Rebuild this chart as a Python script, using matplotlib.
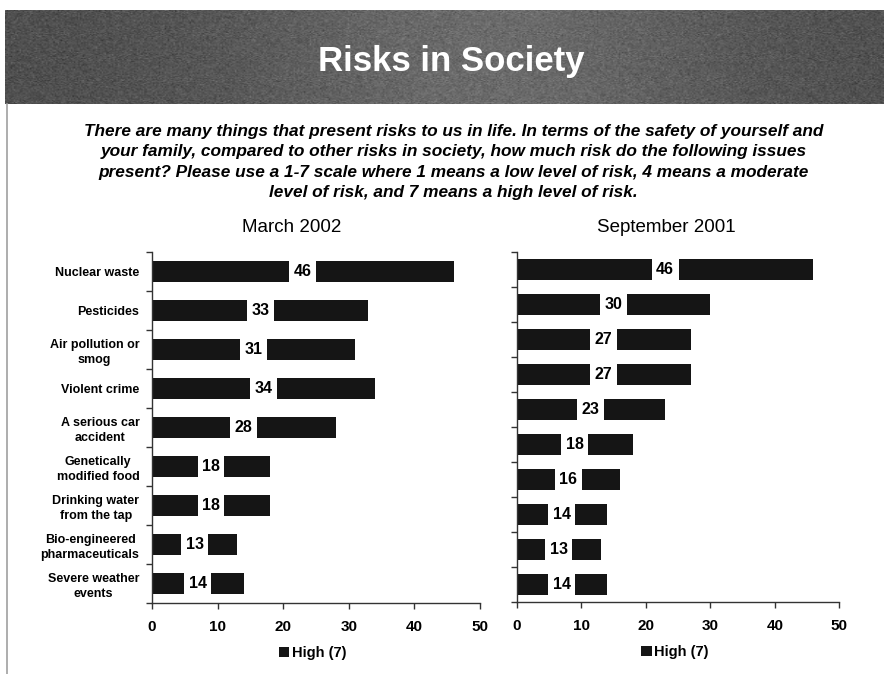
import numpy as np
import matplotlib.pyplot as plt
from matplotlib.lines import Line2D

plt.rcParams['font.family'] = ['Liberation Sans', 'DejaVu Sans']

title = "Risks in Society"
question = ("There are many things that present risks to us in life. In terms of the safety of yourself and\n"
            "your family, compared to other risks in society, how much risk do the following issues\n"
            "present? Please use a 1-7 scale where 1 means a low level of risk, 4 means a moderate\n"
            "level of risk, and 7 means a high level of risk.")

issues = ["Nuclear waste", "Pesticides", "Air pollution or\nsmog", "Violent crime",
          "A serious car\naccident", "Genetically\nmodified food", "Drinking water\nfrom the tap",
          "Bio-engineered\npharmaceuticals", "Severe weather\nevents"]
march_2002 = [46, 33, 31, 34, 28, 18, 18, 13, 14]
sept_2001 = [46, 30, 27, 27, 23, 18, 16, 14, 13, 14]
xticks = [0, 10, 20, 30, 40, 50]
legend_label = "High (7)"

fig = plt.figure(figsize=(8.84, 6.74), dpi=100)
fig.patch.set_facecolor('white')

# header banner: dark grey with a lighter middle and some grain
ban = fig.add_axes([5 / 884, 1 - 104 / 674, 1 - 5 / 884, 94 / 674])
ban.set_axis_off()
xs = np.linspace(0, 1, 600)
profile = 0.31 + 0.11 * np.exp(-((xs - 0.55) / 0.28) ** 2)
rng = np.random.default_rng(3)
img = profile[None, :] + rng.normal(0, 0.035, (90, 600))
ban.imshow(np.clip(img, 0, 1), cmap='gray', vmin=0, vmax=1, aspect='auto',
           interpolation='bilinear')
fig.text(0.511, 1 - 61 / 674, title, color='white', fontsize=25, fontweight='bold',
         ha='center', va='center')

# page border on the left
fig.add_artist(Line2D([7 / 884, 7 / 884], [0, 1 - 104 / 674], color='#a0a0a0', lw=1.2))

fig.text(0.513, 1 - 162 / 674, question, fontsize=12.4, fontweight='bold', style='italic',
         ha='center', va='center', multialignment='center', linespacing=1.45)


def draw_panel(rect, values, labels, bar_h, name, name_x):
    ax = fig.add_axes(rect)
    n = len(values)
    pos = np.arange(n)
    bars = ax.barh(pos, values, height=bar_h, color='#151515', label=legend_label)
    ax.set_xlim(0, 50)
    ax.set_ylim(n - 0.5, -0.5)
    for p, v in zip(pos, values):
        ax.text(v / 2, p, str(v), ha='center', va='center', fontsize=11.5, fontweight='bold',
                bbox=dict(boxstyle='square,pad=0.28', fc='white', ec='none'))
    for s in ['top', 'right']:
        ax.spines[s].set_visible(False)
    for s in ['left', 'bottom']:
        ax.spines[s].set_color('#333333')
        ax.spines[s].set_linewidth(1.0)
    ax.set_xticks(xticks)
    ax.set_xticklabels([str(t) for t in xticks], fontsize=11, fontweight='bold')
    ax.tick_params(axis='x', direction='out', length=4, width=1, color='#333333', pad=8)
    ax.set_yticks(np.arange(n + 1) - 0.5)
    ax.set_yticklabels([])
    ax.tick_params(axis='y', which='major', direction='out', length=4, width=1, color='#333333')
    ax.set_yticks(pos, minor=True)
    ax.set_yticklabels(labels if labels else [''] * n, minor=True, fontsize=9,
                       fontweight='bold', multialignment='center', linespacing=1.3)
    ax.tick_params(axis='y', which='minor', length=0, pad=9)
    ax.legend(handles=[bars], loc='upper center', bbox_to_anchor=(0.49, -0.085),
              frameon=False, handlelength=0.75, handleheight=0.75, handletextpad=0.2,
              prop={'weight': 'bold', 'size': 10.5})
    fig.text(name_x, 1 - 228 / 674, name, fontsize=13.5, ha='center', va='center')
    return ax


draw_panel([152 / 884, 1 - 603 / 674, 328 / 884, 351 / 674], march_2002, issues, 0.54,
           "March 2002", 292 / 884)
draw_panel([516.7 / 884, 1 - 602.3 / 674, 322.6 / 884, 350.6 / 674], sept_2001, None, 0.6,
           "September 2001", 666 / 884)

fig.savefig('out.png', dpi=100)
